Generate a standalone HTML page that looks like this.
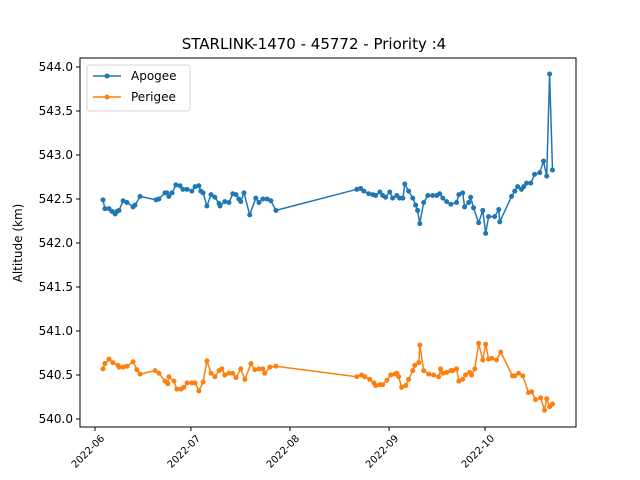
<!DOCTYPE html>
<html><head><meta charset="utf-8"><style>
body{margin:0;background:#fff;}
svg{display:block;font-family:"DejaVu Sans","Liberation Sans",sans-serif;}
</style></head><body>
<svg id="chart" width="640" height="480" viewBox="0 0 640 480">
<rect width="640" height="480" fill="#fff"/>
<text x="314" y="49" font-size="15" text-anchor="middle">STARLINK-1470 - 45772 - Priority :4</text>
<g id="grid"></g>
<g id="series"></g>
<rect x="80" y="58" width="496" height="369" fill="none" stroke="#000" stroke-width="1"/>
<text transform="translate(22,243) rotate(-90)" font-size="12" text-anchor="middle">Altitude (km)</text>
<g>
<rect x="87" y="65" width="103" height="46" rx="3" fill="#fff" stroke="#ccc" stroke-opacity="0.8"/>
<line x1="93" y1="76" x2="121" y2="76" stroke="#1f77b4" stroke-width="1.5"/>
<circle cx="107" cy="76" r="2.5" fill="#1f77b4"/>
<text x="131" y="80" font-size="12">Apogee</text>
<line x1="93" y1="97" x2="121" y2="97" stroke="#ff7f0e" stroke-width="1.5"/>
<circle cx="107" cy="97" r="2.5" fill="#ff7f0e"/>
<text x="131" y="101" font-size="12">Perigee</text>
</g>
</svg>
<script>
// days since 2022-06-01
const apogeeDays=[2.5,3.1,4.4,5.3,6.3,6.9,7.5,8.8,10.0,11.9,12.5,14.1,19.1,20.0,21.9,22.5,23.1,24.1,25.3,26.6,27.5,28.8,30.3,31.3,32.5,33.1,33.8,35.0,36.3,37.5,38.8,39.1,40.6,41.9,43.1,44.1,45.0,45.6,46.6,48.4,50.3,51.3,52.5,53.8,55.0,56.6,81.9,83.1,84.1,85.6,86.9,87.8,89.1,90.0,90.9,92.2,93.1,94.4,95.3,96.3,96.9,98.1,99.4,100.3,100.9,101.6,102.8,104.1,105.6,106.9,107.8,108.8,110.0,111.3,113.1,113.8,115.0,115.6,116.9,117.5,118.4,120.0,121.3,122.2,123.1,125.0,126.3,126.6,130.3,131.3,132.2,133.4,134.1,135.0,136.3,137.5,139.1,140.3,141.3,142.2,143.1];
const apogeeValues=[542.49,542.39,542.39,542.36,542.33,542.36,542.37,542.48,542.46,542.41,542.43,542.53,542.49,542.50,542.57,542.57,542.53,542.57,542.66,542.65,542.61,542.61,542.59,542.64,542.65,542.59,542.57,542.42,542.55,542.52,542.45,542.42,542.47,542.46,542.56,542.55,542.50,542.47,542.57,542.32,542.51,542.46,542.50,542.50,542.48,542.37,542.61,542.62,542.59,542.56,542.55,542.54,542.58,542.54,542.52,542.58,542.51,542.54,542.51,542.51,542.67,542.59,542.51,542.43,542.37,542.22,542.46,542.54,542.54,542.54,542.56,542.51,542.47,542.44,542.46,542.55,542.57,542.41,542.46,542.52,542.40,542.23,542.37,542.11,542.30,542.30,542.38,542.24,542.53,542.59,542.64,542.61,542.64,542.68,542.68,542.78,542.80,542.93,542.76,543.92,542.83];
const perigeeDays=[2.5,3.1,4.4,5.6,7.2,7.5,8.8,10.0,11.9,13.1,14.1,18.8,20.0,21.9,22.8,23.1,24.7,25.6,26.9,27.8,28.8,30.3,31.3,32.5,33.8,35.0,36.3,37.5,38.8,39.7,40.6,41.9,43.1,44.1,45.6,46.9,48.8,50.0,51.3,52.5,53.1,54.7,56.6,81.9,83.4,84.4,85.9,87.2,87.8,89.1,90.0,91.3,92.5,93.8,94.4,95.0,95.9,97.2,98.1,99.4,100.0,101.3,101.6,102.8,104.4,105.9,107.5,108.1,108.8,110.0,111.3,111.9,113.1,113.8,115.0,115.9,117.2,117.8,118.8,120.0,121.3,122.2,123.1,124.1,125.6,126.9,130.6,131.3,132.5,133.8,135.6,136.6,137.8,139.4,140.6,141.3,142.2,143.1];
const perigeeValues=[540.57,540.63,540.68,540.64,540.61,540.59,540.59,540.60,540.65,540.56,540.51,540.55,540.52,540.43,540.40,540.48,540.43,540.34,540.34,540.36,540.41,540.41,540.41,540.32,540.42,540.66,540.52,540.48,540.55,540.57,540.50,540.52,540.52,540.47,540.57,540.45,540.63,540.56,540.57,540.57,540.52,540.59,540.60,540.48,540.50,540.48,540.45,540.41,540.38,540.39,540.39,540.44,540.50,540.51,540.52,540.48,540.36,540.38,540.45,540.55,540.61,540.64,540.84,540.55,540.51,540.50,540.48,540.57,540.52,540.53,540.55,540.55,540.57,540.43,540.45,540.50,540.53,540.50,540.57,540.86,540.67,540.85,540.68,540.69,540.67,540.76,540.49,540.49,540.52,540.49,540.30,540.31,540.22,540.24,540.10,540.23,540.14,540.17];
const yTicks=[540.0,540.5,541.0,541.5,542.0,542.5,543.0,543.5,544.0];
const xTickLabels=["2022-06","2022-07","2022-08","2022-09","2022-10"];
const xTickDays=[0,30,61,92,122];

const NS="http://www.w3.org/2000/svg";
const xs=d=>95+d*3.197;
const ys=v=>419-(v-540)*88;
const grid=document.getElementById('grid');
const ser=document.getElementById('series');
function mk(tag,attrs,parent){const e=document.createElementNS(NS,tag);for(const k in attrs)e.setAttribute(k,attrs[k]);parent.appendChild(e);return e;}

yTicks.forEach(v=>{
  const y=ys(v);
  const t=mk('line',{x1:76,x2:80,y1:y,y2:y,stroke:'#000'},grid);
  
  
  const l=mk('text',{x:73,y:y+4,'font-size':12,'text-anchor':'end'},grid);
  
  
  l.textContent=v.toFixed(1);
});
xTickDays.forEach((d,i)=>{
  const x=xs(d);
  const t=mk('line',{x1:x,x2:x,y1:427,y2:431,stroke:'#000'},grid);
  
  
  const l=mk('text',{transform:`translate(${x+10},439) rotate(-45)`,'font-size':10,'text-anchor':'end'},grid);
  
  
  l.textContent=xTickLabels[i];
});
function drawSeries(days,vals,color,name){
  const pts=days.map((d,i)=>xs(d).toFixed(1)+','+ys(vals[i]).toFixed(1)).join(' ');
  const pl=mk('polyline',{points:pts,fill:'none',stroke:color,'stroke-width':1.5,'stroke-linejoin':'round'},ser);
  
  
  days.forEach((d,i)=>{
    const c=mk('circle',{cx:xs(d),cy:ys(vals[i]),r:2.5,fill:color},ser);
    
    
  });
}
drawSeries(apogeeDays,apogeeValues,'#1f77b4','apogee');
drawSeries(perigeeDays,perigeeValues,'#ff7f0e','perigee');
</script>
</body></html>
